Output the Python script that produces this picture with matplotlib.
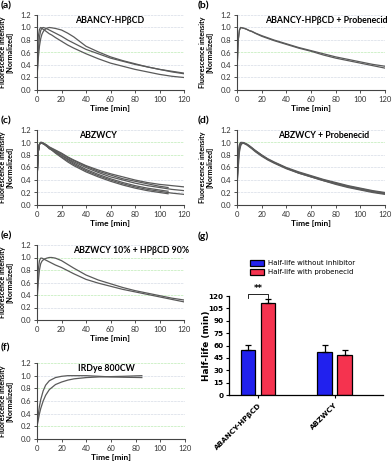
import matplotlib
matplotlib.use("Agg")
import matplotlib.pyplot as plt

# ---------------- data ----------------
t_std = [0, 1, 2, 3, 4, 5, 6, 8, 10, 12, 15, 20, 25, 30, 40, 50, 60, 70, 80, 90, 100, 110, 120]
t_short = [0, 1, 2, 3, 4, 5, 6, 8, 10, 12, 15, 20, 25, 30, 40, 50, 60, 70, 80, 90, 100, 107]
t_ir = [0, 1, 2, 3, 5, 7, 10, 15, 20, 25, 30, 40, 50, 60, 70, 85]

a_curves = [
    [0.30, 0.85, 0.97, 1.00, 0.99, 0.97, 0.96, 0.93, 0.90, 0.88, 0.84, 0.78, 0.72, 0.67, 0.58, 0.50, 0.43, 0.38, 0.33, 0.29, 0.25, 0.22, 0.20],
    [0.20, 0.60, 0.85, 0.95, 0.99, 1.00, 0.995, 0.98, 0.96, 0.94, 0.91, 0.86, 0.80, 0.75, 0.65, 0.58, 0.51, 0.46, 0.41, 0.37, 0.33, 0.29, 0.26],
    [0.20, 0.50, 0.70, 0.82, 0.89, 0.93, 0.96, 0.99, 1.00, 0.995, 0.985, 0.96, 0.91, 0.85, 0.70, 0.61, 0.53, 0.47, 0.42, 0.37, 0.33, 0.30, 0.27],
]
b_curves = [
    [0.30, 0.80, 0.96, 1.00, 0.995, 0.99, 0.985, 0.97, 0.95, 0.94, 0.91, 0.87, 0.835, 0.80, 0.74, 0.68, 0.63, 0.58, 0.53, 0.49, 0.45, 0.41, 0.38],
    [0.30, 0.80, 0.96, 1.00, 0.995, 0.99, 0.985, 0.97, 0.95, 0.935, 0.905, 0.86, 0.825, 0.79, 0.73, 0.67, 0.62, 0.56, 0.51, 0.47, 0.43, 0.39, 0.35],
]
c_curves_long = [
    [0.40, 0.85, 0.97, 1.00, 1.00, 0.99, 0.98, 0.96, 0.93, 0.91, 0.88, 0.83, 0.77, 0.72, 0.63, 0.56, 0.50, 0.45, 0.40, 0.36, 0.33, 0.31, 0.29],
    [0.40, 0.85, 0.97, 1.00, 1.00, 0.99, 0.98, 0.95, 0.92, 0.90, 0.86, 0.80, 0.74, 0.69, 0.60, 0.52, 0.45, 0.40, 0.35, 0.31, 0.28, 0.25, 0.23],
    [0.40, 0.85, 0.97, 1.00, 0.99, 0.98, 0.97, 0.94, 0.91, 0.88, 0.84, 0.77, 0.71, 0.65, 0.55, 0.47, 0.40, 0.34, 0.29, 0.25, 0.22, 0.19, 0.17],
]
c_curves_short = [
    [0.40, 0.85, 0.97, 1.00, 1.00, 0.99, 0.98, 0.95, 0.92, 0.90, 0.87, 0.82, 0.76, 0.71, 0.62, 0.54, 0.48, 0.42, 0.38, 0.34, 0.30, 0.28],
    [0.40, 0.85, 0.97, 1.00, 0.99, 0.98, 0.97, 0.94, 0.91, 0.89, 0.85, 0.79, 0.73, 0.67, 0.57, 0.49, 0.42, 0.36, 0.31, 0.27, 0.24, 0.22],
    [0.40, 0.85, 0.97, 1.00, 0.99, 0.98, 0.97, 0.94, 0.90, 0.88, 0.83, 0.76, 0.69, 0.63, 0.53, 0.45, 0.38, 0.32, 0.27, 0.23, 0.20, 0.18],
]
d_curves = [
    [0.30, 0.80, 0.95, 1.00, 1.00, 1.00, 0.99, 0.97, 0.94, 0.91, 0.87, 0.80, 0.74, 0.69, 0.60, 0.53, 0.47, 0.41, 0.36, 0.31, 0.27, 0.23, 0.20],
    [0.30, 0.70, 0.90, 0.97, 0.99, 1.00, 0.99, 0.97, 0.94, 0.91, 0.86, 0.79, 0.73, 0.68, 0.59, 0.52, 0.46, 0.40, 0.35, 0.30, 0.26, 0.22, 0.19],
    [0.30, 0.85, 0.97, 1.00, 1.00, 0.99, 0.98, 0.96, 0.93, 0.90, 0.85, 0.78, 0.72, 0.67, 0.58, 0.51, 0.45, 0.39, 0.34, 0.29, 0.25, 0.21, 0.18],
    [0.30, 0.60, 0.85, 0.95, 0.98, 0.99, 0.99, 0.975, 0.95, 0.92, 0.87, 0.80, 0.73, 0.68, 0.59, 0.51, 0.45, 0.39, 0.33, 0.28, 0.24, 0.20, 0.17],
]
e_curves = [
    [0.30, 0.80, 0.95, 0.99, 0.99, 0.98, 0.97, 0.95, 0.93, 0.91, 0.88, 0.84, 0.79, 0.74, 0.65, 0.59, 0.54, 0.49, 0.45, 0.41, 0.37, 0.33, 0.29],
    [0.30, 0.60, 0.80, 0.90, 0.94, 0.96, 0.975, 0.99, 1.00, 1.00, 0.99, 0.95, 0.89, 0.83, 0.72, 0.64, 0.58, 0.52, 0.47, 0.43, 0.39, 0.35, 0.32],
]
f_curves = [
    [0.20, 0.38, 0.52, 0.62, 0.76, 0.85, 0.92, 0.97, 0.99, 1.00, 1.00, 1.00, 0.99, 0.98, 0.975, 0.97],
    [0.20, 0.30, 0.40, 0.48, 0.60, 0.69, 0.78, 0.86, 0.90, 0.93, 0.95, 0.97, 0.98, 0.985, 0.99, 1.00],
]

bar_groups = ["ABANCY-HPβCD", "ABZWCY"]
halflife_no_inh = [55, 52]
halflife_no_inh_err = [6, 9]
halflife_probe = [111, 48]
halflife_probe_err = [5, 6]
legend_labels = ["Half-life without inhibitor", "Half-life with probenecid"]

# ---------------- figure ----------------
W, H = 392, 461
fig = plt.figure(figsize=(W / 100, H / 100), dpi=100)
plt.rcParams['font.family'] = ['Lato', 'DejaVu Sans']

def rect(l, r, t, b):
    return [l / W, 1 - b / H, (r - l) / W, (b - t) / H]

GRAY = '#dde2ea'
GREEN = '#c9efc2'
LINE = '#5a5a5a'

def time_panel(pos, title, title_x, green):
    ax = fig.add_axes(rect(*pos))
    ax.set_xlim(0, 120)
    ax.set_ylim(0, 1.2)
    for g in [0.2, 0.4, 0.6, 0.8, 1.0, 1.2]:
        c = GREEN if round(g, 1) in green else GRAY
        ax.axhline(g, color=c, lw=0.6, ls=(0, (3, 1)), zorder=0)
    ax.set_xticks(range(0, 121, 20))
    ax.set_yticks([0, 0.2, 0.4, 0.6, 0.8, 1.0, 1.2])
    ax.set_yticklabels(['0.0', '0.2', '0.4', '0.6', '0.8', '1.0', '1.2'])
    ax.tick_params(labelsize=5.5, length=2, width=0.6, pad=2, colors='#333333')
    for s in ['top', 'right']:
        ax.spines[s].set_visible(False)
    for s in ['left', 'bottom']:
        ax.spines[s].set_linewidth(0.8)
        ax.spines[s].set_color('#444444')
    ax.set_xlabel('Time [min]', fontsize=6, fontweight='bold', labelpad=0)
    ax.xaxis.set_label_coords(0.5, -0.2)
    ax.set_ylabel('Fluorescence intensity\n[Normalized]', fontsize=5.1,
                  fontweight='bold', linespacing=1.05)
    ax.yaxis.set_label_coords(-0.16, 0.5)
    ax.text(title_x, 1.11, title, fontsize=6.3, fontweight='bold', ha='center', va='center')
    return ax

def letter(x, y, s):
    fig.text(x / W, 1 - y / H, s, fontsize=7.5, fontweight='bold', va='top', ha='left')

# (a)
ax = time_panel((37, 184, 15, 90), 'ABANCY-HPβCD', 59, [0.6])
for c in a_curves:
    ax.plot(t_std, c, color=LINE, lw=0.9)
letter(1, 1, '(a)')
# (b)
ax = time_panel((237, 385, 15, 90), 'ABANCY-HPβCD + Probenecid', 72, [0.6])
for c in b_curves:
    ax.plot(t_std, c, color=LINE, lw=0.9)
letter(198, 1, '(b)')
# (c)
ax = time_panel((37, 184, 130, 205), 'ABZWCY', 50, [0.8, 1.0])
for c in c_curves_long:
    ax.plot(t_std, c, color=LINE, lw=0.9)
for c in c_curves_short:
    ax.plot(t_short, c, color=LINE, lw=0.9)
letter(1, 116, '(c)')
# (d)
ax = time_panel((237, 385, 130, 205), 'ABZWCY + Probenecid', 70, [1.0])
for c in d_curves:
    ax.plot(t_std, c, color=LINE, lw=0.9)
letter(198, 116, '(d)')
# (e)
ax = time_panel((37, 184, 245, 320), 'ABZWCY 10% + HPβCD 90%', 77, [0.8, 1.0, 0.4])
for c in e_curves:
    ax.plot(t_std, c, color=LINE, lw=0.9)
letter(1, 231, '(e)')
# (f)
ax = time_panel((37, 185, 363, 439), 'IRDye 800CW', 56, [1.2, 0.8, 0.2])
for c in f_curves:
    ax.plot(t_ir, c, color=LINE, lw=0.9)
letter(1, 343, '(f)')

# (g) bar chart
axg = fig.add_axes(rect(229, 383, 296, 395))
x = list(range(len(bar_groups)))
w = 0.19
off = 0.13
xb = [i - off for i in x]
xr = [i + off for i in x]
BLUE = '#2121ee'
RED = '#f5334f'
axg.bar(xb, halflife_no_inh, w, color=BLUE, edgecolor='black', lw=0.9,
        yerr=[[0] * 2, halflife_no_inh_err], capsize=2.5,
        error_kw=dict(elinewidth=0.9, capthick=0.9), label=legend_labels[0], zorder=2)
axg.bar(xr, halflife_probe, w, color=RED, edgecolor='black', lw=0.9,
        yerr=[[0] * 2, halflife_probe_err], capsize=2.5,
        error_kw=dict(elinewidth=0.9, capthick=0.9), label=legend_labels[1], zorder=2)
axg.set_xlim(-0.38, 1.63)
axg.set_ylim(0, 120)
axg.set_yticks(range(0, 121, 15))
axg.set_xticks(x)
axg.set_xticklabels(bar_groups, rotation=45, ha='right', rotation_mode='anchor',
                    fontsize=5.2, fontweight='bold', family=['DejaVu Sans'])
axg.tick_params(axis='y', labelsize=5.2, length=2.5, width=0.8, pad=1.5)
axg.tick_params(axis='x', length=2.5, width=0.8, pad=2.5)
for lbl in axg.get_yticklabels():
    lbl.set_fontweight('bold')
    lbl.set_family(['DejaVu Sans'])
for s in ['top', 'right']:
    axg.spines[s].set_visible(False)
for s in ['left', 'bottom']:
    axg.spines[s].set_linewidth(0.9)
axg.set_ylabel('Half-life (min)', fontsize=6.4, fontweight='bold', family=['DejaVu Sans'])
axg.yaxis.set_label_coords(-0.12, 0.5)
# significance bracket
yb = 123
axg.plot([xb[0], xb[0], xr[0], xr[0]], [118, yb, yb, 118], color='black', lw=0.6, clip_on=False)
axg.text((xb[0] + xr[0]) / 2, yb + 0.5, '**', ha='center', va='bottom', fontsize=6,
         fontweight='bold', family=['DejaVu Sans'])
leg = axg.legend(loc='upper left', bbox_to_anchor=((247 - 229) / 154, (296 - 257) / 99 + 1),
                 frameon=False, handlelength=2.0, handleheight=0.9,
                 handletextpad=0.6, labelspacing=0.45, borderaxespad=0,
                 prop={'family': 'DejaVu Sans', 'size': 5.0})
letter(198, 231, '(g)')

fig.savefig('out.png', dpi=100)
